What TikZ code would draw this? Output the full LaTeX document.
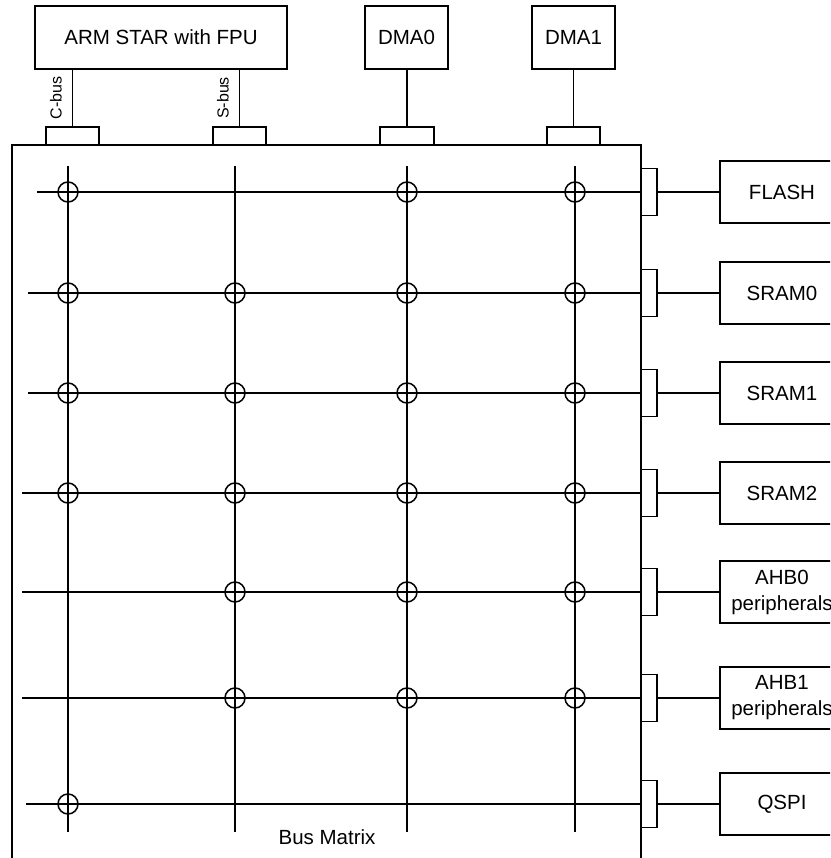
\documentclass[tikz,border=0pt]{standalone}
\usepackage{fontspec}
\setmainfont{Liberation Sans}
\begin{document}
\begin{tikzpicture}[x=1pt,y=-1pt,line width=1.5pt,
  box/.style={draw,inner sep=0pt,outer sep=0pt,anchor=north west,align=center,font=\fontsize{20.5}{26}\selectfont},
  port/.style={draw,inner sep=0pt,outer sep=0pt,anchor=north west},
  buslabel/.style={rotate=90,anchor=south,inner sep=0pt,inner ysep=10pt,font=\fontsize{16}{18}\selectfont},
  xcirc/.style={draw,circle,inner sep=0pt,minimum size=20pt}]
\useasboundingbox (0,0) rectangle (830,858);
\clip (0,0) rectangle (830,858);
% masters
\node[box,minimum width=252,minimum height=63] (arm) at (35,6) {ARM STAR with FPU};
\node[box,minimum width=83,minimum height=63] (dma0) at (365,6) {DMA0};
\node[box,minimum width=83,minimum height=63] (dma1) at (532,6) {DMA1};
% bus matrix
\node[port,minimum width=629,minimum height=800] (bm) at (12,145) {};
\node[font=\fontsize{20.5}{24}\selectfont] (bmlabel) at (327,837) {Bus Matrix};
% master ports
\node[port,minimum width=53,minimum height=18] (cport) at (46,127) {};
\node[port,minimum width=53,minimum height=18] (sport) at (213,127) {};
\node[port,minimum width=54,minimum height=18] (d0port) at (380,127) {};
\node[port,minimum width=53,minimum height=18] (d1port) at (547,127) {};
\draw (cport.north) -- node[buslabel] {C-bus} (cport.north |- arm.south);
\draw (sport.north) -- node[buslabel] {S-bus} (sport.north |- arm.south);
\draw (d0port.north) -- (d0port.north |- dma0.south);
\draw (d1port.north) -- (d1port.north |- dma1.south);
% columns
\foreach \cx/\cn in {68/1,235/2,407/3,575/4}{
  \coordinate (ct\cn) at (\cx,166);
  \coordinate (cb\cn) at (\cx,832);
  \draw (ct\cn) -- (cb\cn);
}
% rows and slaves
\foreach \ry/\lx/\nm/\txt in {192/37/flash/FLASH,293/28/sram0/SRAM0,393/28/sram1/SRAM1,493/22/sram2/SRAM2,592/22/ahb0/{AHB0\\peripherals},698/22/ahb1/{AHB1\\peripherals},804/26/qspi/QSPI}{
  \node[port,minimum width=16,minimum height=47] (p\nm) at (641,\ry-23.5) {};
  \node[box,minimum width=124,minimum height=62] (\nm) at (720,\ry-31) {\txt};
  \coordinate (l\nm) at (\lx,\ry);
  \draw (l\nm) -- (p\nm.west);
  \draw (p\nm.east) -- (\nm.west);
}
% crossing points
\foreach \ry/\cols in {192/{68,407,575},293/{68,235,407,575},393/{68,235,407,575},493/{68,235,407,575},592/{235,407,575},698/{235,407,575},804/{68}}{
  \foreach \cx in \cols { \node[xcirc] at (\cx,\ry) {}; }
}
\end{tikzpicture}
\end{document}
